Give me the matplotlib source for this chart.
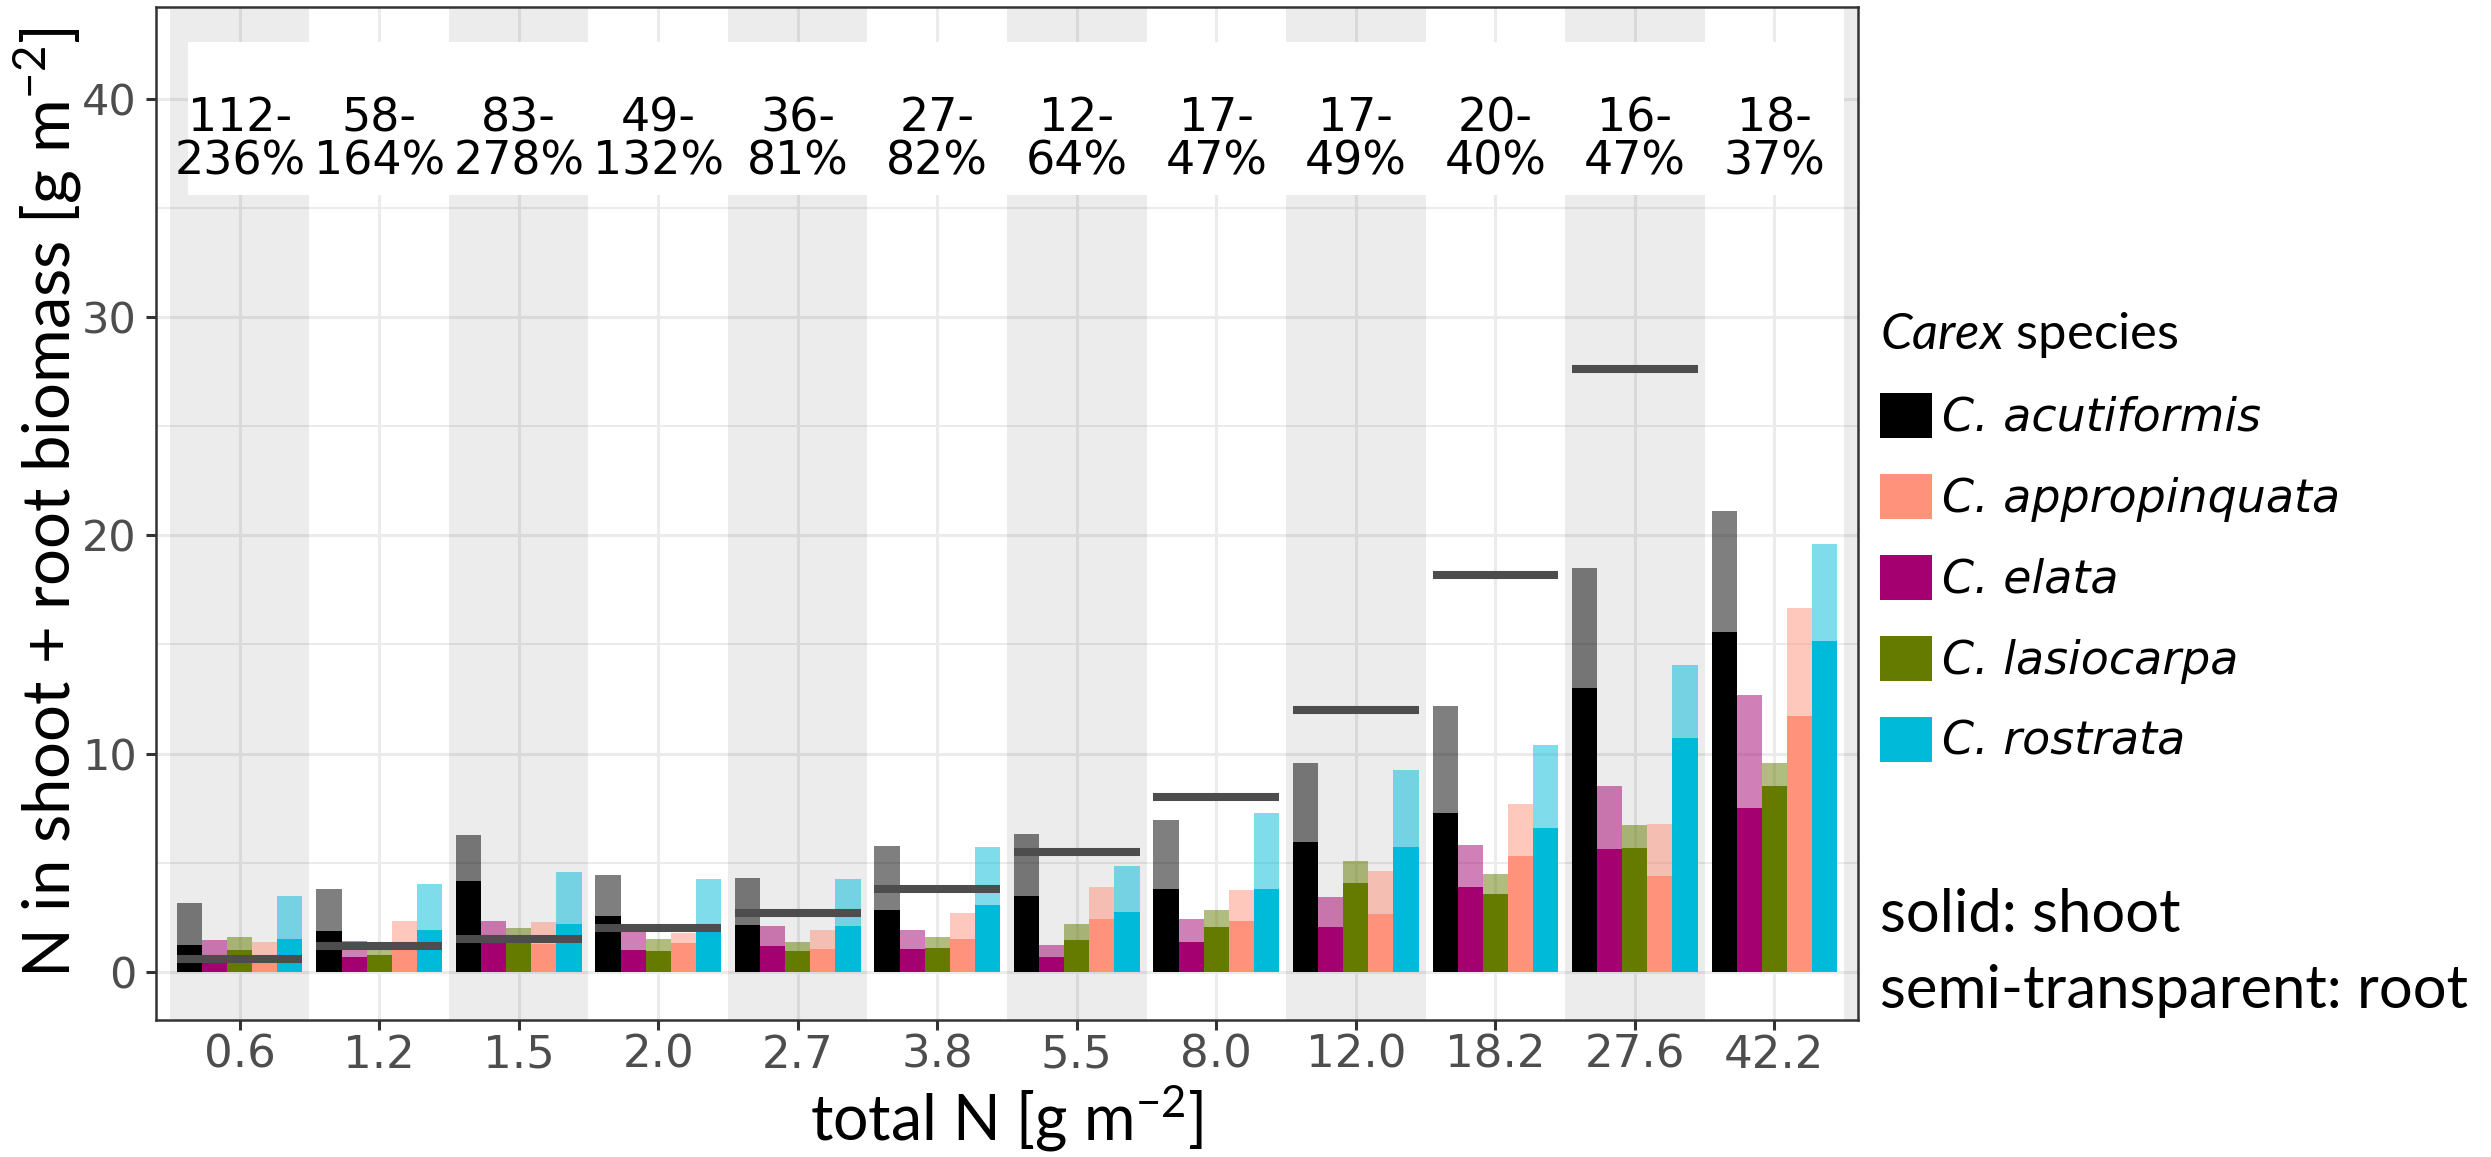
import matplotlib
matplotlib.use("Agg")
import matplotlib.pyplot as plt
from matplotlib.patches import Patch, Rectangle

plt.rcParams['font.family'] = ['Lato', 'DejaVu Sans']
plt.rcParams['mathtext.fontset'] = 'custom'
plt.rcParams['mathtext.rm'] = 'Lato'
plt.rcParams['mathtext.it'] = 'Lato:italic'

# total N supply per treatment (x categories)
total_n = [0.6, 1.2, 1.5, 2.0, 2.7, 3.8, 5.5, 8.0, 12.0, 18.2, 27.6, 42.2]
total_n_labels = ['0.6', '1.2', '1.5', '2.0', '2.7', '3.8', '5.5', '8.0',
                  '12.0', '18.2', '27.6', '42.2']
pct_labels = ['112-\n236%', '58-\n164%', '83-\n278%', '49-\n132%', '36-\n81%',
              '27-\n82%', '12-\n64%', '17-\n47%', '17-\n49%', '20-\n40%',
              '16-\n47%', '18-\n37%']

# N in shoot and shoot + root (g m-2), per species
acutiformis_total = [3.17, 3.78, 6.27, 4.42, 4.31, 5.75, 6.30, 6.94, 9.59, 12.16, 18.51, 21.10]
acutiformis_shoot = [1.25, 1.87, 4.16, 2.58, 2.17, 2.86, 3.49, 3.82, 5.95, 7.29, 13.00, 15.55]
elata_total = [1.48, 1.41, 2.32, 1.85, 2.12, 1.94, 1.22, 2.42, 3.44, 5.83, 8.50, 12.68]
elata_shoot = [0.60, 0.69, 1.35, 1.02, 1.18, 1.04, 0.70, 1.38, 2.06, 3.90, 5.63, 7.52]
lasiocarpa_total = [1.58, 1.15, 2.02, 1.50, 1.36, 1.60, 2.20, 2.86, 5.08, 4.47, 6.72, 9.55]
lasiocarpa_shoot = [1.00, 0.76, 1.40, 0.97, 0.96, 1.10, 1.47, 2.06, 4.08, 3.56, 5.68, 8.54]
appropinquata_total = [1.35, 2.34, 2.29, 1.80, 1.93, 2.69, 3.88, 3.75, 4.62, 7.68, 6.77, 16.69]
appropinquata_shoot = [0.55, 1.02, 1.30, 1.31, 1.05, 1.51, 2.43, 2.34, 2.65, 5.29, 4.41, 11.71]
rostrata_total = [3.47, 4.04, 4.60, 4.27, 4.27, 5.72, 4.86, 7.26, 9.24, 10.39, 14.07, 19.62]
rostrata_shoot = [1.51, 1.94, 2.20, 2.20, 2.12, 3.09, 2.74, 3.82, 5.72, 6.61, 10.73, 15.16]

col_acu = '#000000'
col_app = '#FF927A'
col_ela = '#A50070'
col_las = '#647B00'
col_ros = '#00BAD9'

# order of the bars inside each group
bar_series = [
    (acutiformis_shoot, acutiformis_total, col_acu),
    (elata_shoot, elata_total, col_ela),
    (lasiocarpa_shoot, lasiocarpa_total, col_las),
    (appropinquata_shoot, appropinquata_total, col_app),
    (rostrata_shoot, rostrata_total, col_ros),
]
legend_names = ['C. acutiformis', 'C. appropinquata', 'C. elata',
                'C. lasiocarpa', 'C. rostrata']
legend_cols = [col_acu, col_app, col_ela, col_las, col_ros]

W, H = 2491, 1157
fig = plt.figure(figsize=(W / 100, H / 100), dpi=100)
ax = fig.add_axes([156 / W, 1 - 1020 / H, (1858 - 156) / W, (1020 - 7) / H])

pos = list(range(1, len(total_n) + 1))
bw = 0.18

# alternating grey bands
for p in list(range(1, len(pos) + 2, 2)):
    ax.axvspan(p - 0.5, p + 0.5, color='black', alpha=0.075, lw=0, zorder=0.6)

for k, (shoot, tot, c) in enumerate(bar_series):
    xs = [p + (k - 2) * bw for p in pos]
    root = [t - s for t, s in zip(tot, shoot)]
    ax.bar(xs, shoot, width=bw, color=c, lw=0, zorder=2)
    ax.bar(xs, root, bottom=shoot, width=bw, color=c, alpha=0.5, lw=0, zorder=2)

# total N supply as reference segment
ax.hlines(total_n, [p - 0.45 for p in pos], [p + 0.45 for p in pos],
          color='#4d4d4d', lw=5.8, zorder=3, capstyle='butt')

# white box with recovery percentages
ax.add_patch(Rectangle((0.63, 35.6), 12.5 - 0.63, 42.6 - 35.6,
                       facecolor='white', lw=0, zorder=4))
for p, lab in zip(pos, pct_labels):
    ax.text(p, 38.1, lab, ha='center', va='center', fontsize=33,
            family='DejaVu Sans', linespacing=0.95, zorder=5)

ax.set_xlim(0.4, 12.6)
ax.set_ylim(-2.2, 44.2)
ax.set_xticks(pos)
ax.set_xticklabels(total_n_labels)
ax.set_yticks([0, 10, 20, 30, 40])
ax.set_yticks([5, 15, 25, 35], minor=True)

ax.set_axisbelow(True)
ax.grid(True, which='major', color='#ebebeb', lw=2.2)
ax.grid(True, which='minor', axis='y', color='#ebebeb', lw=1.4)
ax.tick_params(which='major', length=7, width=2.2, color='#333333',
               labelcolor='#4d4d4d', labelfontfamily='DejaVu Sans')
ax.tick_params(axis='y', pad=7, labelsize=31)
ax.tick_params(axis='x', pad=3, labelsize=32.5)
ax.tick_params(which='minor', length=0)
for s in ax.spines.values():
    s.set_color('#333333')
    s.set_linewidth(1.8)

ax.set_xlabel(r'total N [g m$^{\mathregular{-2}}$]', fontsize=45, va='baseline')
ax.xaxis.set_label_coords(0.5, (1020 - 1140) / 1013)
ax.set_ylabel(r'N in shoot + root biomass [g m$^{\mathregular{-2}}$]', fontsize=47,
              va='baseline', rotation_mode='anchor')
ax.yaxis.set_label_coords((71 - 156) / 1702, 0.511)

handles = [Patch(facecolor=c, lw=0) for c in legend_cols]
fig.legend(handles, legend_names, loc='upper left',
           bbox_to_anchor=(1880 / W, 1 - 310 / H), frameon=False,
           borderpad=0, borderaxespad=0, handlelength=1.13, handleheight=1.13,
           handletextpad=0.22, labelspacing=0.72, alignment='left',
           prop={'family': 'DejaVu Sans', 'style': 'italic', 'size': 33},
           title=r'$\mathit{Carex}$ species',
           title_fontproperties={'family': 'Lato', 'size': 36.5})

fig.text(1880 / W, 1 - 932 / H, 'solid: shoot', fontsize=43, va='baseline')
fig.text(1880 / W, 1 - 1008 / H, 'semi-transparent: root', fontsize=43, va='baseline')

fig.savefig('out.png', dpi=100)
